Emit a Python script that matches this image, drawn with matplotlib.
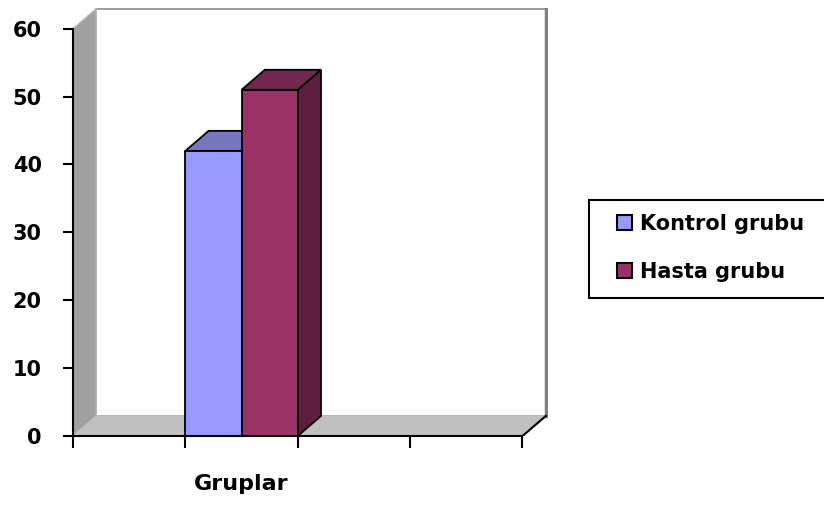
""" Kontrol ve hasta grubu karsilastirmasi """

from matplotlib import pyplot as plt
from matplotlib.patches import Polygon, Rectangle, Patch

# Data.
groups = ['Kontrol grubu', 'Hasta grubu']
values = [42, 51]
category = 'Gruplar'
yticks = [0, 10, 20, 30, 40, 50, 60]

front_colors = ['#9999FF', '#993366']
top_colors = ['#7777C0', '#732650']
side_colors = ['#5C5CA0', '#5F1E3F']

# Depth of the 3D box in data units.
DX, DY = 0.207, 2.95
YMAX = 60

fig = plt.figure(figsize=(8.24, 5.05), dpi=100)
ax = fig.add_axes([73 / 824, 69 / 505, 475 / 824, 428 / 505])
ax.set_xlim(0, 4 + DX + 0.02)
ax.set_ylim(0, YMAX + DY + 0.1)

# Walls and floor.
ax.add_patch(Rectangle((DX, DY), 4, YMAX, facecolor='white', edgecolor='#8c8c8c',
                       linewidth=1.2, zorder=0))
ax.plot([4 + DX, 4 + DX], [DY, YMAX + DY], color='#808080', linewidth=2.5, zorder=1)
ax.add_patch(Polygon([(0, 0), (DX, DY), (DX, YMAX + DY), (0, YMAX)],
                     facecolor='#A0A0A0', edgecolor='#B8B8B8', linewidth=1, zorder=1))
ax.add_patch(Polygon([(0, 0), (4, 0), (4 + DX, DY), (DX, DY)],
                     facecolor='#C0C0C0', edgecolor='#C0C0C0', linewidth=1, zorder=1))
ax.plot([4, 4 + DX], [0, DY], color='black', linewidth=1.5, zorder=2)

# Bars: front face, top and right side.
width = 0.5
for i, (name, v) in enumerate(zip(groups, values)):
    x0 = 1 + i * width
    z = 3 + i * 3
    ax.add_patch(Polygon([(x0 + width, 0), (x0 + width + DX, DY), (x0 + width + DX, v + DY),
                          (x0 + width, v)], facecolor=side_colors[i], edgecolor='black',
                         linewidth=1.3, zorder=z))
    ax.add_patch(Polygon([(x0, v), (x0 + width, v), (x0 + width + DX, v + DY), (x0 + DX, v + DY)],
                         facecolor=top_colors[i], edgecolor='black', linewidth=1.3, zorder=z + 1))
    ax.bar(x0, v, width=width, align='edge', color=front_colors[i], edgecolor='black',
           linewidth=1.3, zorder=z + 2)

# Axes.
for s in ['top', 'right']:
    ax.spines[s].set_visible(False)
ax.spines['left'].set_bounds(0, YMAX)
ax.spines['bottom'].set_bounds(0, 4)
ax.spines['left'].set_linewidth(1.5)
ax.spines['bottom'].set_linewidth(1.5)
ax.spines['left'].set_zorder(10)
ax.spines['bottom'].set_zorder(10)

ax.set_yticks(yticks)
ax.set_yticklabels([str(t) for t in yticks], fontsize=15, fontweight='bold')
ax.tick_params(axis='y', direction='out', length=7.5, width=1.5, pad=15)

ax.set_xticks([0, 1, 2, 3, 4])
ax.set_xticklabels([])
ax.tick_params(axis='x', which='major', direction='out', length=8.5, width=1.5)
ax.set_xticks([1.5], minor=True)
ax.set_xticklabels([category], minor=True, fontsize=16, fontweight='bold')
ax.tick_params(axis='x', which='minor', length=0, pad=27)

# Legend: the frame runs off the right edge of the figure.
fig.patches.append(Rectangle((589 / 824, 1 - 298 / 505), 0.4, 98 / 505, transform=fig.transFigure,
                             facecolor='white', edgecolor='black', linewidth=1.5, zorder=0))
handles = [Patch(facecolor=c, edgecolor='black', linewidth=1.5) for c in front_colors]
leg = fig.legend(handles, groups, loc='upper left', bbox_to_anchor=(617 / 824, 1 - 214 / 505),
                 prop={'weight': 'bold', 'size': 15}, frameon=False, borderpad=0,
                 handlelength=0.72, handleheight=0.72, handletextpad=0.38,
                 labelspacing=1.35, borderaxespad=0)

plt.savefig('out.png', dpi=100)
